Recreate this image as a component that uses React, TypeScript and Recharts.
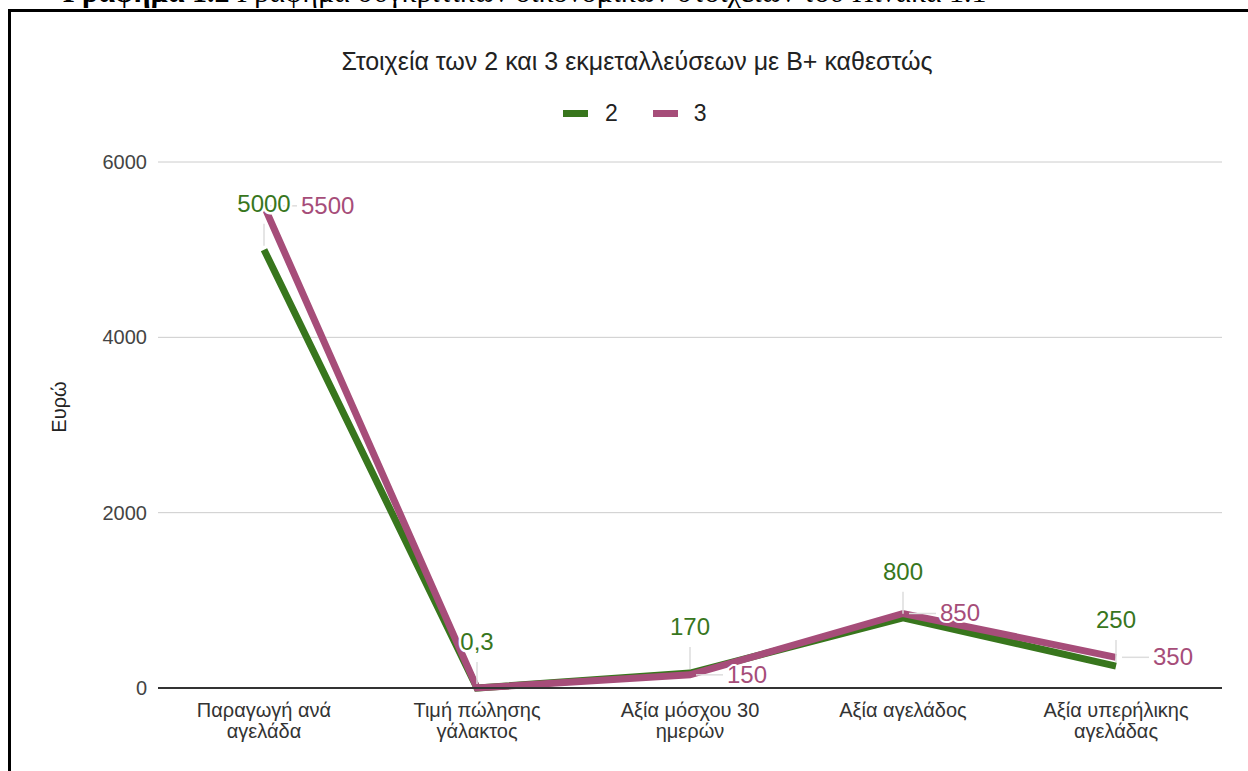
import { LineChart, Line, XAxis, YAxis, CartesianGrid, LabelList } from 'recharts';

const categories = [
  'Παραγωγή ανά αγελάδα',
  'Τιμή πώλησης γάλακτος',
  'Αξία μόσχου 30 ημερών',
  'Αξία αγελάδος',
  'Αξία υπερήλικης αγελάδας',
];
const farm2 = [5000, 0.3, 170, 800, 250];
const farm3 = [5500, 0.3, 150, 850, 350];
const yTicks = [0, 2000, 4000, 6000];
const hiddenFarm3Labels = [1];

const GREEN = '#38761d';
const PURPLE = '#a64d79';
const FONT = 'Arial, "Liberation Sans", sans-serif';

const data = categories.map((name, i) => ({ name, f2: farm2[i], f3: farm3[i] }));

const fmt = (v: number) => String(v).replace('.', ',');

// greedy word wrap for the category ticks
function wrap(label: string, max = 15) {
  const lines: string[] = [];
  let cur = '';
  for (const w of label.split(' ')) {
    const next = cur ? cur + ' ' + w : w;
    if (next.length > max && cur) {
      lines.push(cur);
      cur = w;
    } else cur = next;
  }
  if (cur) lines.push(cur);
  return lines;
}

function CategoryTick(props: any) {
  const { x, y, payload } = props;
  const lines = wrap(payload.value);
  return (
    <text x={x} y={y + 29} textAnchor="middle" fill="#333" fontSize={20} fontFamily={FONT}>
      {lines.map((l, i) => (
        <tspan key={i} x={x} dy={i === 0 ? 0 : 20.5}>
          {l}
        </tspan>
      ))}
    </text>
  );
}

function Farm2Label(props: any) {
  const { x, y, value } = props;
  return (
    <g>
      <line x1={x} x2={x} y1={y - 4} y2={y - 26} stroke="#ddd" strokeWidth={1.5} />
      <text
        x={x}
        y={y - 38}
        textAnchor="middle"
        fill={GREEN}
        fontSize={24}
        fontFamily={FONT}
        stroke="#fff"
        strokeWidth={5}
        strokeLinejoin="round"
        paintOrder="stroke"
      >
        {fmt(value)}
      </text>
    </g>
  );
}

function Farm3Label(props: any) {
  const { x, y, value, index } = props;
  if (hiddenFarm3Labels.includes(index)) return null;
  return (
    <g>
      <line x1={x + 6} x2={x + 33} y1={y} y2={y} stroke="#ddd" strokeWidth={1.5} />
      <text
        x={x + 37}
        y={y + 8}
        textAnchor="start"
        fill={PURPLE}
        fontSize={24}
        fontFamily={FONT}
        stroke="#fff"
        strokeWidth={4}
        strokeLinejoin="round"
        paintOrder="stroke"
      >
        {fmt(value)}
      </text>
    </g>
  );
}

export default function App() {
  return (
    <div
      style={{
        position: 'absolute',
        left: 0,
        top: 0,
        width: 1248,
        height: 771,
        overflow: 'hidden',
        background: '#fff',
        fontFamily: FONT,
      }}
    >
      <div
        style={{
          position: 'absolute',
          left: 63,
          top: -25,
          fontFamily: '"Liberation Serif", "Times New Roman", serif',
          fontSize: 30,
          lineHeight: '34px',
          whiteSpace: 'nowrap',
          color: '#000',
        }}
      >
        <b>Γράφημα 1.2</b> Γράφημα συγκριτικών οικονομικών στοιχείων του Πίνακα 1.1
      </div>
      <div
        style={{
          position: 'absolute',
          left: 8,
          top: 9,
          width: 1400,
          height: 900,
          border: '3px solid #000',
        }}
      />

      <div
        style={{
          position: 'absolute',
          left: 0,
          width: 1274,
          top: 47,
          textAlign: 'center',
          fontSize: 25,
          lineHeight: '28px',
          color: '#222',
        }}
      >
        Στοιχεία των 2 και 3 εκμεταλλεύσεων με B+ καθεστώς
      </div>

      <div
        style={{
          position: 'absolute',
          left: 563,
          top: 100,
          display: 'flex',
          alignItems: 'center',
          fontSize: 23,
          lineHeight: '26px',
          color: '#222',
        }}
      >
        <span style={{ width: 25, height: 7, background: GREEN, display: 'inline-block' }} />
        <span style={{ marginLeft: 17 }}>2</span>
        <span style={{ width: 25, height: 7, background: PURPLE, display: 'inline-block', marginLeft: 35 }} />
        <span style={{ marginLeft: 16 }}>3</span>
      </div>

      <div style={{ position: 'absolute', left: 0, top: 0 }}>
        <LineChart
          width={1248}
          height={771}
          data={data}
          margin={{ top: 162, right: 26, bottom: 0, left: 0 }}
          style={{ fontFamily: FONT }}
        >
          <CartesianGrid vertical={false} stroke="#ccc" />
          <XAxis
            dataKey="name"
            height={83}
            interval={0}
            tickLine={false}
            tickSize={0}
            tickMargin={0}
            axisLine={{ stroke: '#333', strokeWidth: 2 }}
            padding={{ left: 106, right: 106 }}
            tick={<CategoryTick />}
          />
          <YAxis
            width={158}
            domain={[0, 6000]}
            ticks={yTicks}
            axisLine={false}
            tickLine={false}
            tickSize={0}
            tickMargin={11}
            tick={{ fill: '#444', fontSize: 20 }}
            label={() => (
              <text
                x={59}
                y={407}
                transform="rotate(-90 59 407)"
                textAnchor="middle"
                dominantBaseline="central"
                fill="#222"
                fontSize={20}
                fontFamily={FONT}
              >
                Ευρώ
              </text>
            )}
          />
          <Line
            type="linear"
            dataKey="f2"
            name="2"
            stroke={GREEN}
            strokeWidth={7}
            dot={false}
            isAnimationActive={false}
          />
          <Line
            type="linear"
            dataKey="f3"
            name="3"
            stroke={PURPLE}
            strokeWidth={7}
            dot={false}
            isAnimationActive={false}
          >
            <LabelList dataKey="f3" content={<Farm3Label />} />
          </Line>
          {/* carries the series-2 labels so they sit above the series-3 line */}
          <Line
            type="linear"
            dataKey="f2"
            name="2 labels"
            stroke="none"
            strokeWidth={0}
            dot={false}
            activeDot={false}
            legendType="none"
            isAnimationActive={false}
          >
            <LabelList dataKey="f2" content={<Farm2Label />} />
          </Line>
        </LineChart>
      </div>
    </div>
  );
}
